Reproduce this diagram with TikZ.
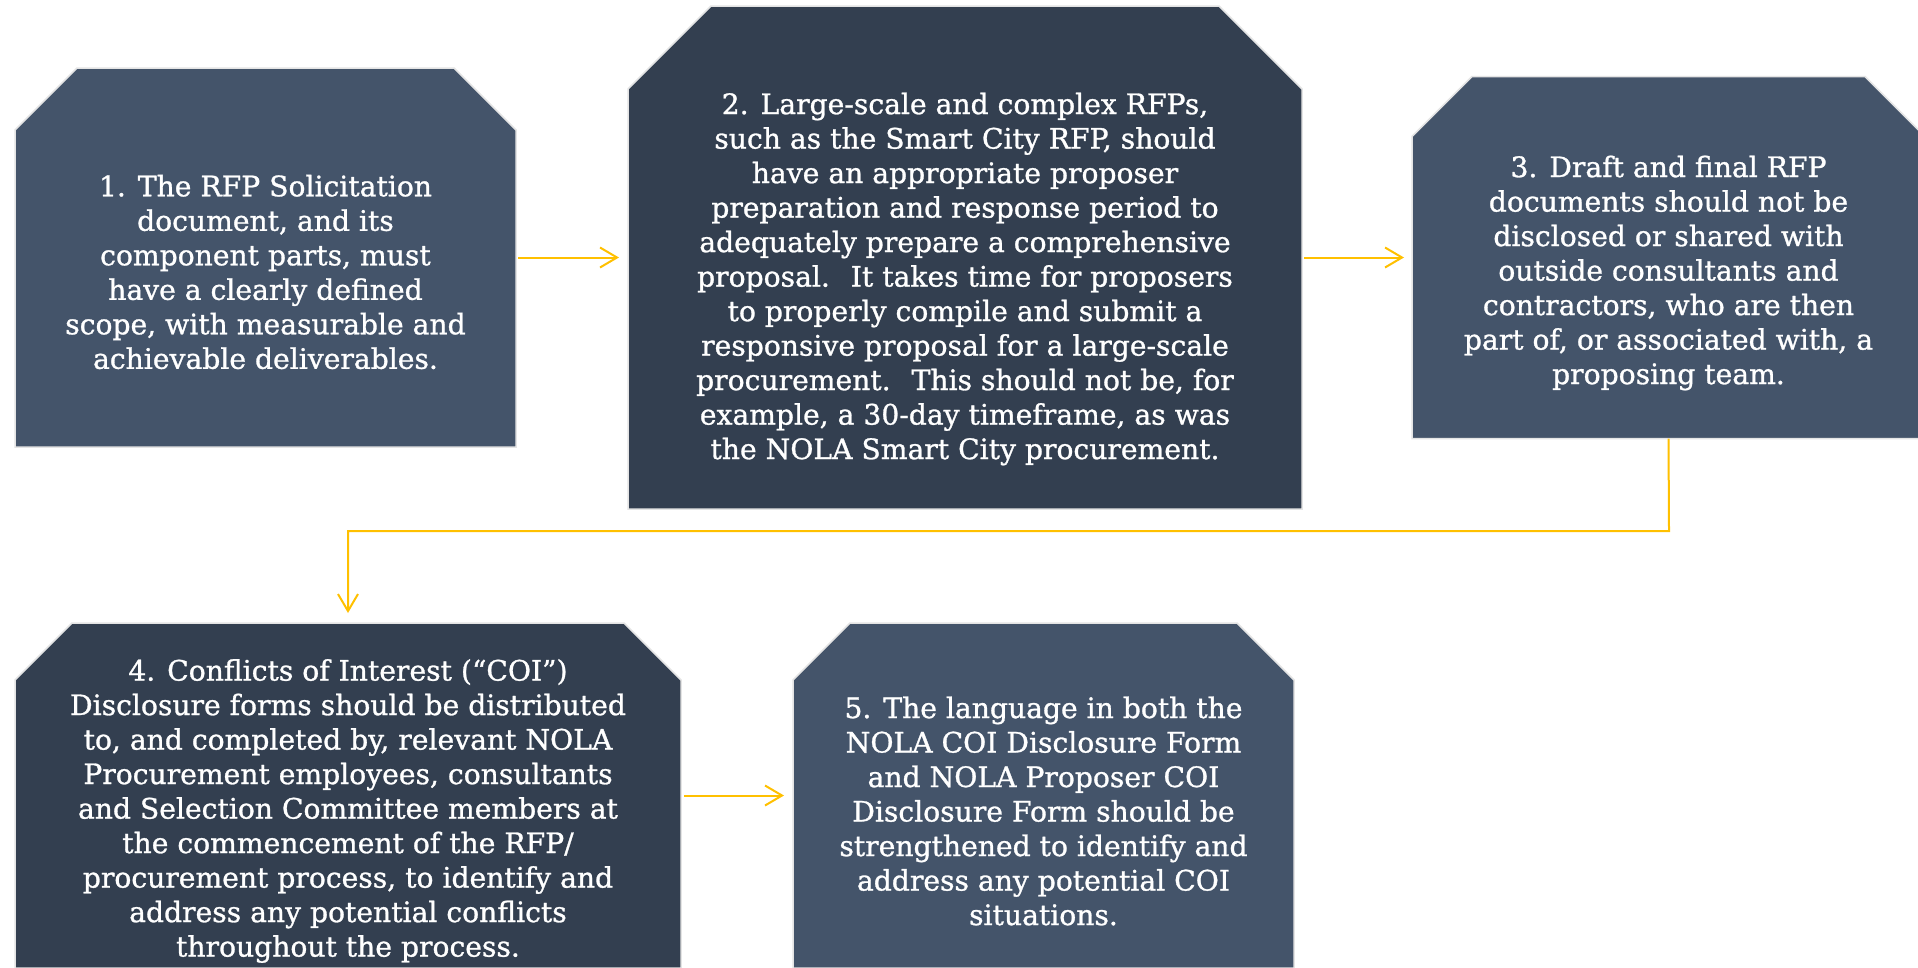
\documentclass[tikz,border=0pt]{standalone}
\usepackage{fontspec}
\setmainfont{DejaVu Serif}
\newfontfamily\boxfont[FakeBold=1]{DejaVu Serif}
\usetikzlibrary{arrows.meta,calc}
\definecolor{slateA}{HTML}{44546A}
\definecolor{slateB}{HTML}{333F50}
\definecolor{edgegray}{HTML}{E4E4E4}
\definecolor{gold}{HTML}{FFC000}
\tikzset{
  frame/.style={draw=none, inner sep=0pt, outer sep=0pt, rectangle},
  snipbox/.style={draw=edgegray, line width=1.5pt, line join=miter},
  boxtext/.style={text=white, align=center, inner sep=0pt, font=\boxfont\fontsize{28.2}{34.5}\selectfont},
  flow/.style={draw=gold, line width=2pt, -{Straight Barb[length=17pt,width=20pt]}}
}
\newcommand{\snip}[3]{% name, cut, colour
  \filldraw[snipbox, fill=#3]
    (#1.south west) -- ($(#1.north west)+(0,#2)$) -- ($(#1.north west)+(#2,0)$)
    -- ($(#1.north east)+(-#2,0)$) -- ($(#1.north east)+(0,#2)$)
    -- (#1.south east) -- cycle;}
\begin{document}
\begin{tikzpicture}[x=1pt,y=-1pt]
\useasboundingbox (0,0) rectangle (1918,967);
\clip (0,0) rectangle (1918,967);
\fill[white] (0,0) rectangle (1918,967);

\node[frame, minimum width=501pt, minimum height=379pt] (b1) at (265.5,257.5) {};
\node[frame, minimum width=674pt, minimum height=503pt] (b2) at (965,257.5) {};
\node[frame, minimum width=513pt, minimum height=362pt] (b3) at (1668.5,257.5) {};
\node[frame, minimum width=666pt, minimum height=345pt] (b4) at (348,795.5) {};
\node[frame, minimum width=501pt, minimum height=345pt] (b5) at (1043.5,795.5) {};

\snip{b1}{62}{slateA}
\snip{b2}{83}{slateB}
\snip{b3}{60}{slateA}
\snip{b4}{57}{slateB}
\snip{b5}{57}{slateA}

\node[boxtext] (t1) at (265.5,272) {1. The RFP Solicitation\\document, and its\\component parts, must\\have a clearly defined\\scope, with measurable and\\achievable deliverables.};
\node[boxtext] (t2) at (965,279) {2. Large-scale and complex RFPs,\\such as the Smart City RFP, should\\have an appropriate proposer\\preparation and response period to\\adequately prepare a comprehensive\\proposal.~ It takes time for proposers\\to properly compile and submit a\\responsive proposal for a large-scale\\procurement.~ This should not be, for\\example, a 30-day timeframe, as was\\the NOLA Smart City procurement.};
\node[boxtext] (t3) at (1668.5,273) {3. Draft and final RFP\\documents should not be\\disclosed or shared with\\outside consultants and\\contractors, who are then\\part of, or associated with, a\\proposing team.};
\node[boxtext] (t4) at (348,811) {4. Conflicts of Interest (“COI”)\\Disclosure forms should be distributed\\to, and completed by, relevant NOLA\\Procurement employees, consultants\\and Selection Committee members at\\the commencement of the RFP/\\procurement process, to identify and\\address any potential conflicts\\throughout the process.};
\node[boxtext] (t5) at (1043.5,811) {5. The language in both the\\NOLA COI Disclosure Form\\and NOLA Proposer COI\\Disclosure Form should be\\strengthened to identify and\\address any potential COI\\situations.};

\coordinate (k1) at (1669,531);
\draw[flow, shorten <=2pt, shorten >=9pt] (b1.east) -- (b2.west);
\draw[flow, shorten <=2pt, shorten >=8pt] (b2.east) -- (b3.west);
\draw[flow, shorten >=10pt] (b3.south) -- (k1) -| (b4.north);
\draw[flow, shorten <=3pt, shorten >=9pt] (b4.east) -- (b5.west);
\end{tikzpicture}
\end{document}
